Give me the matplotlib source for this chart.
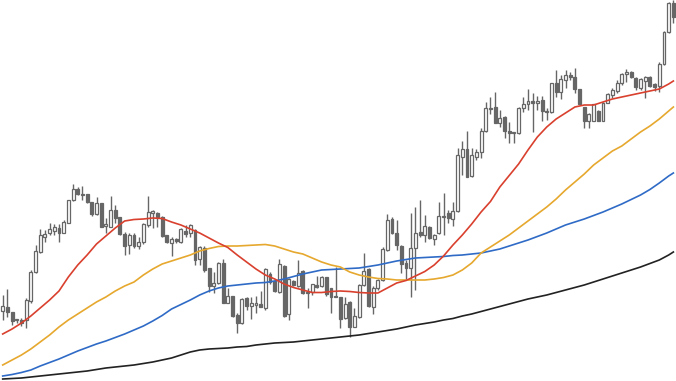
import numpy as np
import matplotlib
matplotlib.use("Agg")
import matplotlib.pyplot as plt

# candle data (price units)
opens = [70, 74, 69, 61, 61, 61, 80, 109, 129, 144, 148, 150, 153, 148, 158, 181, 192, 187, 187, 179,
         167, 178, 155, 154, 171, 164, 147, 136, 146, 135, 139, 156, 168, 168, 164, 146, 138, 142, 139, 150,
         148, 151, 122, 133, 113, 95, 98, 118, 78, 85, 66, 58, 83, 75, 76, 77, 73, 107, 100, 89,
         115, 67, 100, 95, 110, 89, 89, 96, 95, 104, 93, 85, 84, 63, 79, 54, 64, 96, 112, 74,
         93, 101, 131, 162, 148, 135, 118, 113, 133, 149, 146, 154, 142, 148, 164, 168, 162, 170, 224, 232,
         205, 224, 229, 250, 273, 274, 258, 264, 250, 248, 248, 273, 277, 280, 278, 281, 269, 269, 298, 289,
         301, 306, 304, 292, 274, 260, 260, 270, 260, 278, 286, 290, 298, 307, 309, 303, 293, 300, 304, 297,
         295, 317, 349, 378]
highs = [86, 92, 69, 62, 63, 83, 111, 136, 152, 151, 158, 157, 157, 161, 181, 197, 194, 195, 187, 179,
         184, 178, 163, 185, 176, 164, 149, 148, 148, 144, 158, 185, 171, 169, 165, 146, 144, 143, 153, 156,
         157, 152, 135, 135, 113, 109, 119, 122, 93, 85, 68, 83, 84, 84, 85, 90, 113, 109, 102, 122,
         116, 103, 101, 121, 111, 93, 97, 105, 105, 104, 93, 114, 84, 84, 80, 73, 97, 128, 113, 95,
         102, 134, 167, 164, 161, 136, 121, 168, 174, 181, 166, 155, 147, 179, 188, 171, 179, 233, 240, 250,
         233, 232, 253, 279, 284, 289, 271, 265, 259, 249, 274, 284, 292, 288, 285, 285, 273, 298, 311, 306,
         311, 309, 313, 292, 274, 268, 277, 271, 279, 288, 293, 301, 308, 312, 310, 304, 303, 305, 305, 298,
         319, 350, 379, 381]
lows = [61, 64, 56, 58, 55, 53, 78, 108, 128, 139, 146, 146, 139, 148, 158, 180, 186, 181, 178, 165,
        166, 154, 148, 154, 158, 146, 126, 127, 133, 132, 137, 154, 153, 154, 144, 138, 125, 138, 138, 144,
        144, 116, 116, 109, 89, 88, 97, 78, 78, 64, 48, 57, 71, 62, 68, 74, 71, 97, 89, 88,
        64, 61, 95, 94, 87, 73, 86, 93, 94, 85, 68, 84, 53, 62, 44, 54, 63, 95, 74, 67,
        91, 100, 130, 147, 131, 108, 102, 84, 91, 144, 139, 142, 136, 147, 146, 158, 155, 169, 206, 204,
        204, 221, 223, 249, 267, 258, 254, 243, 238, 238, 247, 269, 271, 249, 271, 260, 261, 268, 284, 282,
        293, 301, 288, 276, 253, 253, 260, 260, 260, 278, 283, 288, 296, 299, 303, 291, 291, 283, 294, 290,
        289, 316, 348, 358]
closes = [75, 69, 60, 61, 58, 81, 109, 130, 146, 147, 152, 154, 148, 159, 181, 192, 187, 186, 179, 167,
          178, 154, 157, 171, 163, 147, 135, 146, 135, 139, 157, 169, 170, 164, 145, 139, 142, 140, 152, 147,
          156, 121, 134, 111, 95, 98, 118, 78, 85, 65, 58, 82, 75, 78, 78, 74, 112, 99, 90, 117,
          65, 102, 96, 108, 88, 88, 97, 94, 104, 87, 84, 84, 62, 77, 54, 65, 96, 110, 75, 93,
          101, 132, 161, 148, 136, 117, 113, 133, 148, 146, 155, 143, 146, 165, 165, 163, 170, 226, 232, 204,
          226, 229, 250, 273, 272, 258, 263, 250, 248, 249, 273, 277, 280, 278, 280, 270, 270, 298, 289, 302,
          306, 304, 292, 277, 260, 267, 277, 260, 278, 287, 291, 298, 307, 309, 304, 294, 302, 304, 295, 294,
          317, 349, 378, 364]

# moving averages, sampled every 2 candles (plus the last one)
ma_idx = list(range(0, 144, 2)) + [143]
ma_fast = [47, 52, 58, 65, 73, 81, 90, 104, 116, 126, 137, 145, 153, 160, 161.5, 162, 163, 162.5, 159, 156,
           152, 148, 143, 138, 133.5, 126, 119, 112, 106, 102, 97, 93.5, 91, 88.5, 88.5, 89.5, 90, 89.5, 88.5, 88,
           88, 93, 98, 100.5, 105, 109.5, 116, 125, 136, 146, 157, 169, 179.5, 194, 205.5, 217, 231, 244, 254, 262,
           268, 274, 276, 276, 279, 282, 284, 286, 288, 290, 292, 297, 300]
ma_mid = [16, 21, 26, 32, 39, 46, 54, 61, 67, 73, 79, 84, 90, 95, 99, 106, 112, 117, 120, 123,
          126, 130, 132.5, 134.5, 135, 135, 135.5, 136, 136.5, 135, 132, 129, 127, 123, 119, 116, 114, 109, 106, 104,
          102.5, 102, 101, 101, 101, 101, 102, 103.5, 106, 111, 118, 128, 134, 140, 146, 153, 160, 167, 174, 182,
          191, 199, 207, 216, 223, 230, 235, 242, 249, 255, 262, 270, 274]
ma_slow = [5, 6.5, 8.5, 11, 15, 18.5, 22, 26, 30, 33.5, 37, 40, 43.5, 47, 51, 55, 60, 65.5, 72, 76.5,
           81, 86, 90, 93, 95, 96, 97, 98, 98.5, 100, 102, 104.5, 107, 109, 111, 111.5, 112, 112.5, 113, 114.5,
           116, 118, 120, 121.5, 123, 123.5, 124, 124.5, 125.5, 126, 127, 128, 130, 132, 135, 138, 141, 144.5, 148, 152,
           156, 159, 162, 165.5, 169, 173, 177, 181.5, 186, 191.5, 198, 205, 208]
ma_long = [2, 2.5, 3, 4, 5, 6, 7, 8, 9, 10, 11.5, 13, 14, 15, 16, 17.5, 19, 21, 23, 26,
           29, 31, 32, 32.5, 33, 34, 34.5, 36, 37, 38, 38.5, 39, 40, 41, 42, 43, 44, 45, 46, 47.5,
           49, 50.5, 52, 54, 56, 57.5, 59, 61, 62.5, 65, 67, 69.5, 72, 74.5, 77, 79.5, 82, 84, 86, 88.5,
           91, 93.5, 96, 99, 102, 105, 108, 111, 114, 117.5, 121, 126, 129]

fig = plt.figure(figsize=(6.76, 3.81), dpi=100)
ax = fig.add_axes([0, 0, 1, 1])

o = np.array(opens, dtype=float)
h = np.array(highs, dtype=float)
l = np.array(lows, dtype=float)
c = np.array(closes, dtype=float)
x = np.arange(len(o))
up = c >= o

gray = "#666666"
ax.vlines(x, l, h, color=gray, linewidth=1.0, zorder=2)
body_bot = np.minimum(o, c)
body_h = np.maximum(np.abs(c - o), 0.8)
ax.bar(x[up], body_h[up], bottom=body_bot[up], width=0.62, facecolor="white",
       edgecolor=gray, linewidth=0.9, zorder=3)
ax.bar(x[~up], body_h[~up], bottom=body_bot[~up], width=0.62, facecolor=gray,
       edgecolor=gray, linewidth=0.9, zorder=3)

ax.plot(ma_idx, ma_long, color="#222222", linewidth=1.2, zorder=4)
ax.plot(ma_idx, ma_slow, color="#2f6bc6", linewidth=1.2, zorder=4)
ax.plot(ma_idx, ma_mid, color="#e6a82e", linewidth=1.2, zorder=4)
ax.plot(ma_idx, ma_fast, color="#d9402e", linewidth=1.2, zorder=4)

ax.set_xlim(-0.576, 143.56)
ax.set_ylim(0, 381)
ax.axis("off")

fig.savefig("out.png", dpi=100)
